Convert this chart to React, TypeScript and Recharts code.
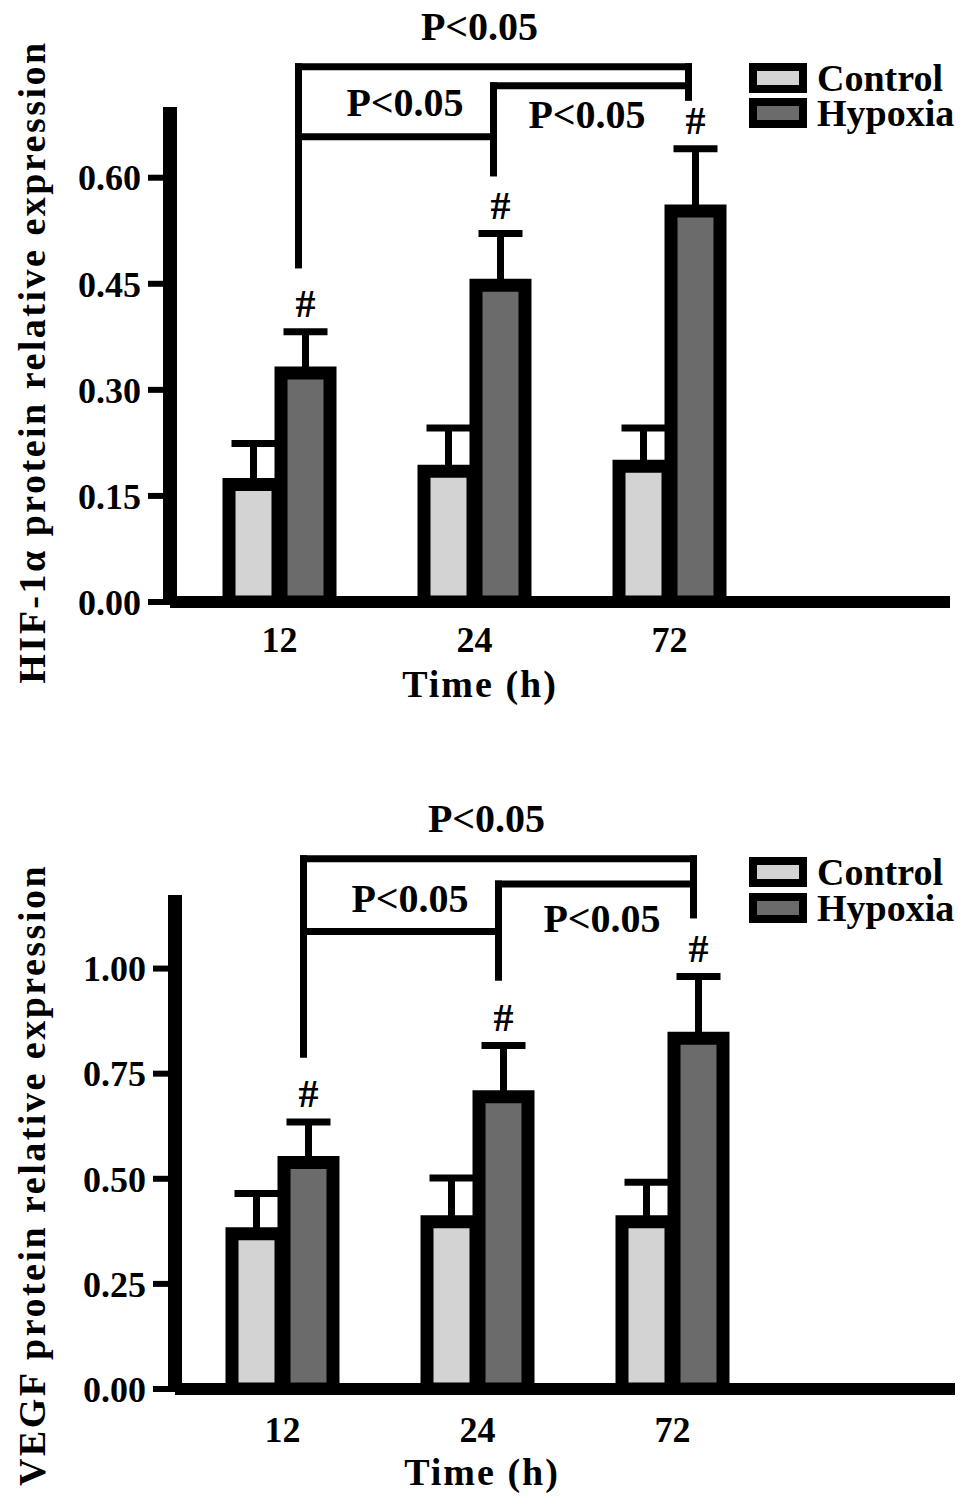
import React from 'react';
import { Bar, BarChart, ErrorBar, Label, LabelList, Legend, ReferenceLine, XAxis, YAxis } from 'recharts';

const FONT = '"Liberation Serif", "Times New Roman", serif';

const timePoints = ['12', '24', '72', ''];
const seriesNames = ['Control', 'Hypoxia'];
const significanceText = 'P<0.05';

const hifControl = [0.166, 0.185, 0.192];
const hifControlSd = [0.058, 0.061, 0.054];
const hifHypoxia = [0.324, 0.448, 0.553];
const hifHypoxiaSd = [0.058, 0.073, 0.088];
const hifTicks = [0, 0.15, 0.3, 0.45, 0.6];

const vegfControl = [0.369, 0.398, 0.398];
const vegfControlSd = [0.096, 0.104, 0.094];
const vegfHypoxia = [0.539, 0.695, 0.834];
const vegfHypoxiaSd = [0.096, 0.122, 0.147];
const vegfTicks = [0, 0.25, 0.5, 0.75, 1.0];

// comparison brackets: which groups, and bracket levels in y units
const hifBrackets = [
  { from: '12', to: '72', level: 0.757, fromEnd: 0.477, toEnd: 0.714 },
  { from: '24', to: '72', level: 0.73, fromEnd: 0.607, toEnd: 0.714 },
  { from: '12', to: '24', level: 0.658, fromEnd: 0.477, toEnd: 0.607 }
];
const vegfBrackets = [
  { from: '12', to: '72', level: 1.261, fromEnd: 0.797, toEnd: 1.128 },
  { from: '24', to: '72', level: 1.201, fromEnd: 0.98, toEnd: 1.128 },
  { from: '12', to: '24', level: 1.088, fromEnd: 0.797, toEnd: 0.98 }
];

function buildRows(control: number[], controlSd: number[], hypoxia: number[], hypoxiaSd: number[]) {
  return timePoints.map((time, i) => ({
    time,
    control: control[i] ?? null,
    controlErr: control[i] != null ? [0, controlSd[i]] : null,
    hypoxia: hypoxia[i] ?? null,
    hypoxiaErr: hypoxia[i] != null ? [0, hypoxiaSd[i]] : null,
    hash: hypoxia[i] != null ? [hypoxia[i], hypoxiaSd[i]] : null
  }));
}

const renderLegend = (rowHeight: number) => (props: any) => {
  const payload = props.payload || [];
  return (
    <div>
      {payload.map((entry: any) => (
        <div key={entry.value} style={{ display: 'flex', alignItems: 'center', height: rowHeight }}>
          <span
            style={{
              display: 'inline-block',
              width: 42,
              height: 14,
              border: '8px solid #000',
              background: entry.color
            }}
          />
          <span style={{ marginLeft: 10, fontFamily: FONT, fontWeight: 'bold', fontSize: 38, color: '#000' }}>
            {entry.value}
          </span>
        </div>
      ))}
    </div>
  );
};

const renderHash = (props: any) => {
  const vb = props.viewBox || props;
  const val = props.value;
  if (!Array.isArray(val)) return null;
  const [mean, sd] = val;
  const x = vb.x ?? props.x;
  const y = vb.y ?? props.y;
  const width = vb.width ?? props.width;
  const height = Math.abs(vb.height ?? props.height);
  const pxPerUnit = height / mean;
  const capY = y - sd * pxPerUnit;
  return (
    <text x={x + width / 2} y={capY - 15} textAnchor="middle" fontFamily={FONT} fontWeight="bold" fontSize={40} fill="#000">
      #
    </text>
  );
};

interface PanelProps {
  rows: any[];
  height: number;
  top: number;
  domainMax: number;
  ticks: number[];
  yTitle: string;
  yTitleY: number;
  yAxisWidth: number;
  right: number;
  xAxisHeight: number;
  tickMargin: number;
  pad: { left: number; right: number };
  titleX: number;
  titleY: number;
  brackets: any[];
  bracketDx: number;
  labelOffsets: { dx: number; dy: number }[];
  legendTop: number;
  legendRow: number;
}

function Panel(p: PanelProps) {
  const bracketLine = (extra?: { dx: number; dy: number }) => (s: any) => (
    <g>
      <line
        x1={s.x1 + p.bracketDx}
        y1={s.y1}
        x2={s.x2 + p.bracketDx}
        y2={s.y2}
        stroke="#000"
        strokeWidth={7}
        strokeLinecap="square"
      />
      {extra && (
        <text
          x={(s.x1 + s.x2) / 2 + p.bracketDx + extra.dx}
          y={s.y1 + extra.dy}
          textAnchor="middle"
          fontFamily={FONT}
          fontWeight="bold"
          fontSize={40}
          fill="#000"
        >
          {significanceText}
        </text>
      )}
    </g>
  );

  return (
    <BarChart
      width={969}
      height={p.height}
      data={p.rows}
      margin={{ top: p.top, right: p.right, bottom: 0, left: 0 }}
      barSize={49}
      barGap={3}
    >
      <XAxis
        dataKey="time"
        height={p.xAxisHeight}
        interval={0}
        tickLine={false}
        tickSize={0}
        tickMargin={p.tickMargin}
        padding={p.pad}
        axisLine={{ stroke: '#000', strokeWidth: 12 }}
        tick={{ fill: '#000', fontSize: 36, fontWeight: 'bold', fontFamily: FONT }}
      >
        <Label
          content={() => (
            <text x={p.titleX} y={p.titleY} textAnchor="middle" fontFamily={FONT} fontWeight="bold" fontSize={38} letterSpacing={2} fill="#000">
              Time (h)
            </text>
          )}
        />
      </XAxis>
      <YAxis
        width={p.yAxisWidth}
        domain={[0, p.domainMax]}
        allowDataOverflow
        ticks={p.ticks}
        interval={0}
        tickFormatter={(v: number) => v.toFixed(2)}
        tickSize={22}
        tickMargin={7}
        tickLine={{ stroke: '#000', strokeWidth: 6 }}
        axisLine={{ stroke: '#000', strokeWidth: 14 }}
        tick={{ fill: '#000', fontSize: 36, fontWeight: 'bold', fontFamily: FONT }}
      >
        <Label
          content={() => (
            <text
              x={45}
              y={p.yTitleY}
              transform={`rotate(-90 45 ${p.yTitleY})`}
              textAnchor="middle"
              fontFamily={FONT}
              fontWeight="bold"
              fontSize={38}
              letterSpacing={2.5}
              fill="#000"
            >
              {p.yTitle}
            </text>
          )}
        />
      </YAxis>
      <Legend
        layout="vertical"
        align="center"
        verticalAlign="middle"
        wrapperStyle={{ left: 749, top: p.legendTop, width: 220 }}
        content={renderLegend(p.legendRow)}
      />
      <Bar dataKey="control" name={seriesNames[0]} fill="#d3d3d3" stroke="#000" strokeWidth={13} isAnimationActive={false}>
        <ErrorBar dataKey="controlErr" direction="y" width={22} stroke="#000" strokeWidth={7} />
      </Bar>
      <Bar dataKey="hypoxia" name={seriesNames[1]} fill="#6b6b6b" stroke="#000" strokeWidth={13} isAnimationActive={false}>
        <ErrorBar dataKey="hypoxiaErr" direction="y" width={22} stroke="#000" strokeWidth={7} />
        <LabelList dataKey="hash" content={renderHash} />
      </Bar>
      {p.brackets.map((b, i) => (
        <ReferenceLine
          key={`h${i}`}
          segment={[
            { x: b.from, y: b.level },
            { x: b.to, y: b.level }
          ]}
          ifOverflow="visible"
          shape={bracketLine(p.labelOffsets[i])}
        />
      ))}
      {p.brackets.map((b, i) => (
        <ReferenceLine
          key={`l${i}`}
          segment={[
            { x: b.from, y: b.level },
            { x: b.from, y: b.fromEnd }
          ]}
          ifOverflow="visible"
          shape={bracketLine()}
        />
      ))}
      {p.brackets.map((b, i) => (
        <ReferenceLine
          key={`r${i}`}
          segment={[
            { x: b.to, y: b.level },
            { x: b.to, y: b.toEnd }
          ]}
          ifOverflow="visible"
          shape={bracketLine()}
        />
      ))}
    </BarChart>
  );
}

export default function App() {
  const hifRows = buildRows(hifControl, hifControlSd, hifHypoxia, hifHypoxiaSd);
  const vegfRows = buildRows(vegfControl, vegfControlSd, vegfHypoxia, vegfHypoxiaSd);

  return (
    <div style={{ position: 'absolute', left: 0, top: 0, width: 969, height: 1507, background: '#fff' }}>
      <div style={{ position: 'absolute', left: 0, top: 0 }}>
        <Panel
          rows={hifRows}
          height={745}
          top={107}
          domainMax={0.7}
          ticks={hifTicks}
          yTitle="HIF-1α protein relative expression"
          yTitleY={362}
          yAxisWidth={170}
          right={19}
          xAxisHeight={143}
          tickMargin={24}
          pad={{ left: 12, right: -12 }}
          titleX={480}
          titleY={697}
          brackets={hifBrackets}
          bracketDx={19}
          labelOffsets={[
            { dx: -14, dy: -27 },
            { dx: -4, dy: 42 },
            { dx: 9, dy: -21 }
          ]}
          legendTop={60}
          legendRow={35}
        />
      </div>
      <div style={{ position: 'absolute', left: 0, top: 745 }}>
        <Panel
          rows={vegfRows}
          height={762}
          top={150}
          domainMax={1.175}
          ticks={vegfTicks}
          yTitle="VEGF protein relative expression"
          yTitleY={430}
          yAxisWidth={175}
          right={14}
          xAxisHeight={118}
          tickMargin={27}
          pad={{ left: 10, right: -10 }}
          titleX={482}
          titleY={740}
          brackets={vegfBrackets}
          bracketDx={21}
          labelOffsets={[
            { dx: -12, dy: -27 },
            { dx: 6, dy: 48 },
            { dx: 9, dy: -20 }
          ]}
          legendTop={109}
          legendRow={36}
        />
      </div>
    </div>
  );
}
